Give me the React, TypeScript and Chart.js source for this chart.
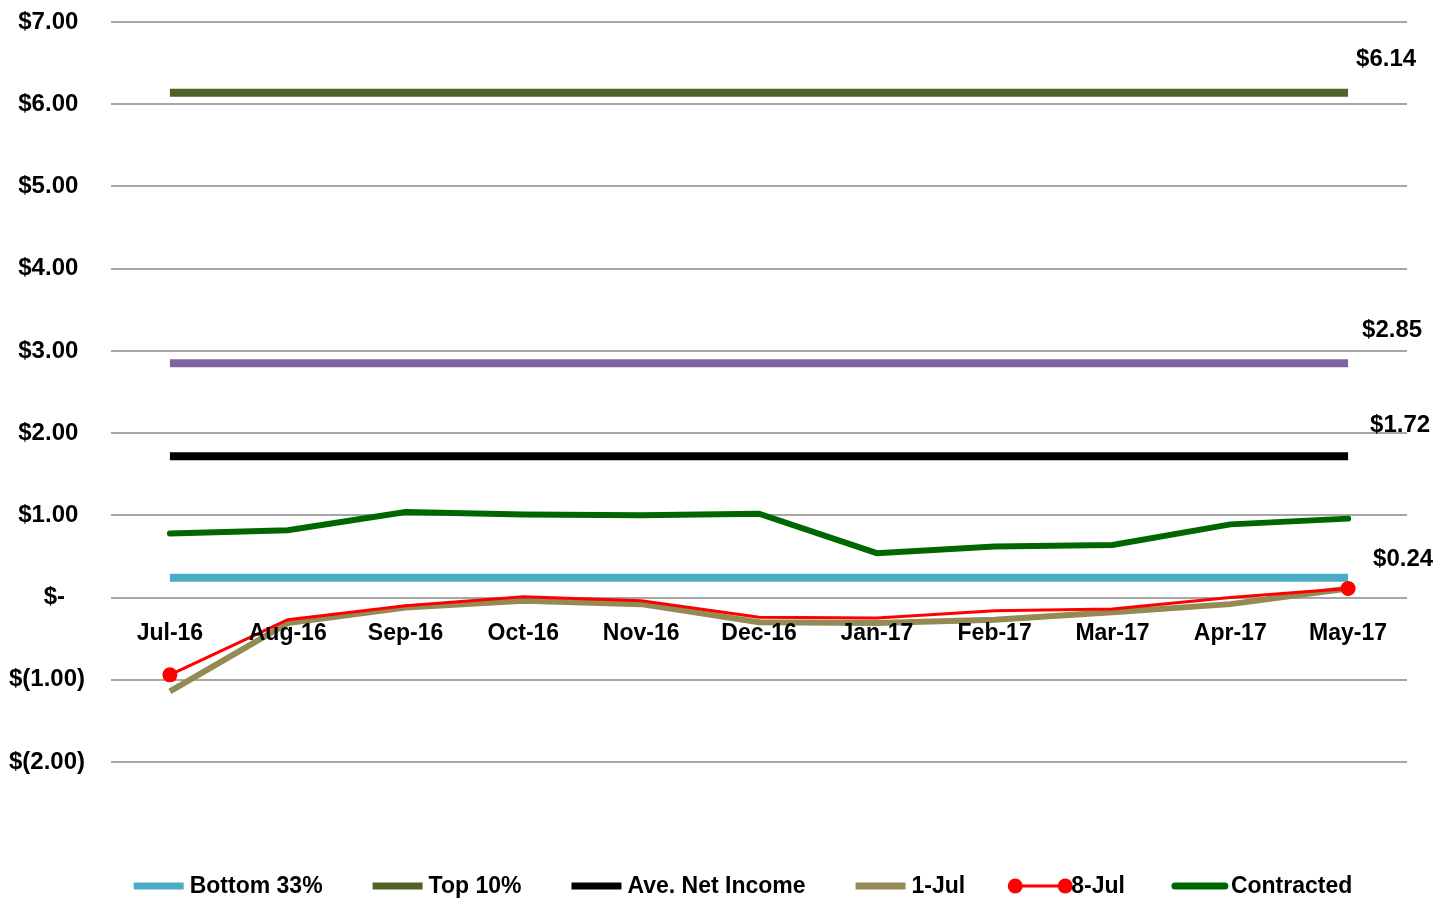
import { useEffect, useRef } from "react";
import { Chart, registerables } from "chart.js";

Chart.register(...registerables);

const FONT = '"Liberation Sans", Arial, sans-serif';

const categories = ["Jul-16", "Aug-16", "Sep-16", "Oct-16", "Nov-16", "Dec-16", "Jan-17", "Feb-17", "Mar-17", "Apr-17", "May-17"];

const bottom33 = [0.24, 0.24, 0.24, 0.24, 0.24, 0.24, 0.24, 0.24, 0.24, 0.24, 0.24];
const top10 = [6.14, 6.14, 6.14, 6.14, 6.14, 6.14, 6.14, 6.14, 6.14, 6.14, 6.14];
const top33 = [2.85, 2.85, 2.85, 2.85, 2.85, 2.85, 2.85, 2.85, 2.85, 2.85, 2.85];
const aveNetIncome = [1.72, 1.72, 1.72, 1.72, 1.72, 1.72, 1.72, 1.72, 1.72, 1.72, 1.72];
const julOne = [-1.14, -0.31, -0.12, -0.04, -0.08, -0.3, -0.31, -0.27, -0.18, -0.08, 0.11];
const julEight = [-0.94, -0.27, -0.1, 0.01, -0.04, -0.24, -0.25, -0.16, -0.14, 0.0, 0.11];
const contracted = [0.78, 0.82, 1.04, 1.01, 1.0, 1.02, 0.54, 0.62, 0.64, 0.89, 0.96];

const yMin = -2;
const yMax = 7;

const legendOrder = ["Bottom 33%", "Top 10%", "Ave. Net Income", "1-Jul", "8-Jul", "Contracted"];

// offsets (px) of end-value labels relative to the last point
const endLabelStyle: Record<string, { dx: number; dy: number }> = {
  "Top 10%": { dx: 8, dy: -33 },
  "Top 33%": { dx: 14, dy: -33 },
  "Ave. Net Income": { dx: 22, dy: -31 },
  "Bottom 33%": { dx: 25, dy: -18 },
};

const fmtMoney = (v: number) => {
  if (Math.abs(v) < 1e-9) return "$-   ";
  if (v < 0) return `$(${Math.abs(v).toFixed(2)})`;
  return `$${v.toFixed(2)} `;
};

// category labels drawn just under the zero line (Excel "axis crosses at 0")
const categoryAxisPlugin = {
  id: "categoryAtZero",
  afterDatasetsDraw(chart: any) {
    const ctx = chart.ctx;
    const xs = chart.scales.x;
    const ys = chart.scales.y;
    const y0 = ys.getPixelForValue(0);
    ctx.save();
    ctx.font = `bold 23px ${FONT}`;
    ctx.fillStyle = "#000";
    ctx.textAlign = "center";
    ctx.textBaseline = "middle";
    chart.data.labels.forEach((lab: string, i: number) => {
      ctx.fillText(lab, xs.getPixelForValue(i), y0 + 36);
    });
    ctx.restore();
  },
};

const endLabelsPlugin = {
  id: "endLabels",
  afterDatasetsDraw(chart: any) {
    const ctx = chart.ctx;
    ctx.save();
    ctx.font = `bold 24px ${FONT}`;
    ctx.fillStyle = "#000";
    ctx.textAlign = "left";
    ctx.textBaseline = "middle";
    chart.data.datasets.forEach((ds: any, i: number) => {
      const st = endLabelStyle[ds.label];
      if (!st) return;
      const meta = chart.getDatasetMeta(i);
      const last = meta.data[meta.data.length - 1];
      const v = ds.data[ds.data.length - 1];
      ctx.fillText(`$${v.toFixed(2)}`, last.x + st.dx, last.y + st.dy);
    });
    ctx.restore();
  },
};

const customLegendPlugin = {
  id: "customLegend",
  afterDraw(chart: any) {
    const ctx = chart.ctx;
    ctx.save();
    ctx.font = `bold 23px ${FONT}`;
    ctx.textBaseline = "middle";
    ctx.textAlign = "left";
    const boxW = 50;
    const gapText = 6;
    const gapItem = 50;
    const items = legendOrder.map((name) => {
      const ds = chart.data.datasets.find((d: any) => d.label === name);
      return { name, ds, tw: ctx.measureText(name).width };
    });
    const total = items.reduce((s, it) => s + boxW + gapText + it.tw, 0) + gapItem * (items.length - 1);
    let x = chart.width / 2 + 18 - total / 2;
    const y = 886;
    items.forEach((it) => {
      const color = it.ds.borderColor;
      if (it.name === "8-Jul") {
        ctx.strokeStyle = color;
        ctx.lineWidth = 3;
        ctx.beginPath();
        ctx.moveTo(x, y);
        ctx.lineTo(x + boxW, y);
        ctx.stroke();
        ctx.fillStyle = color;
        [x, x + boxW].forEach((cx) => {
          ctx.beginPath();
          ctx.arc(cx, y, 7.5, 0, Math.PI * 2);
          ctx.fill();
        });
      } else {
        ctx.strokeStyle = color;
        ctx.lineWidth = 7;
        ctx.lineCap = it.name === "Contracted" ? "round" : "butt";
        ctx.beginPath();
        ctx.moveTo(x, y);
        ctx.lineTo(x + boxW, y);
        ctx.stroke();
      }
      ctx.fillStyle = "#000";
      ctx.fillText(it.name, x + boxW + gapText, y + 1);
      x += boxW + gapText + it.tw + gapItem;
    });
    ctx.restore();
  },
};

export default function App() {
  const canvasRef = useRef<HTMLCanvasElement | null>(null);

  useEffect(() => {
    if (!canvasRef.current) return;
    const flat = (label: string, data: number[], color: string) => ({
      label,
      data,
      borderColor: color,
      backgroundColor: color,
      borderWidth: 8,
      pointRadius: 0,
      borderCapStyle: "butt" as const,
      tension: 0,
      order: 2,
    });
    const chart = new Chart(canvasRef.current, {
      type: "line",
      data: {
        labels: categories,
        datasets: [
          flat("Bottom 33%", bottom33, "#4BACC6"),
          flat("Top 10%", top10, "#4F6228"),
          flat("Top 33%", top33, "#8064A2"),
          flat("Ave. Net Income", aveNetIncome, "#000000"),
          {
            label: "1-Jul",
            data: julOne,
            borderColor: "#948A54",
            backgroundColor: "#948A54",
            borderWidth: 6,
            pointRadius: 0,
            tension: 0,
            order: 2,
          },
          {
            label: "8-Jul",
            data: julEight,
            borderColor: "#FF0000",
            backgroundColor: "#FF0000",
            borderWidth: 3,
            pointRadius: [7.5, 0, 0, 0, 0, 0, 0, 0, 0, 0, 7.5],
            pointBorderWidth: 0,
            pointHoverRadius: 0,
            tension: 0,
            order: 0,
          },
          {
            label: "Contracted",
            data: contracted,
            borderColor: "#006600",
            backgroundColor: "#006600",
            borderWidth: 6,
            borderCapStyle: "round",
            pointRadius: 0,
            tension: 0,
            order: 1,
          },
        ],
      },
      options: {
        animation: false,
        responsive: true,
        maintainAspectRatio: false,
        layout: { padding: { left: 0, right: 43, top: 22, bottom: 137 } },
        plugins: {
          legend: { display: false },
          tooltip: { enabled: false },
        },
        scales: {
          x: {
            type: "category",
            display: false,
            offset: true,
          },
          y: {
            min: yMin,
            max: yMax,
            grid: { color: "#a6a6a6", lineWidth: 2, drawTicks: false },
            border: { display: false },
            afterFit: (scale: any) => {
              scale.width = 111;
              scale.paddingTop = 0;
              scale.paddingBottom = 0;
            },
            ticks: {
              stepSize: 1,
              color: "#000",
              padding: 26,
              font: { family: FONT, size: 24, weight: "bold" },
              callback: (v: any) => fmtMoney(Number(v)),
            },
          },
        },
      },
      plugins: [categoryAxisPlugin, endLabelsPlugin, customLegendPlugin],
    });
    return () => chart.destroy();
  }, []);

  return (
    <div style={{ position: "fixed", left: 0, top: 0, width: 1450, height: 899, background: "#fff" }}>
      <canvas ref={canvasRef} />
    </div>
  );
}
